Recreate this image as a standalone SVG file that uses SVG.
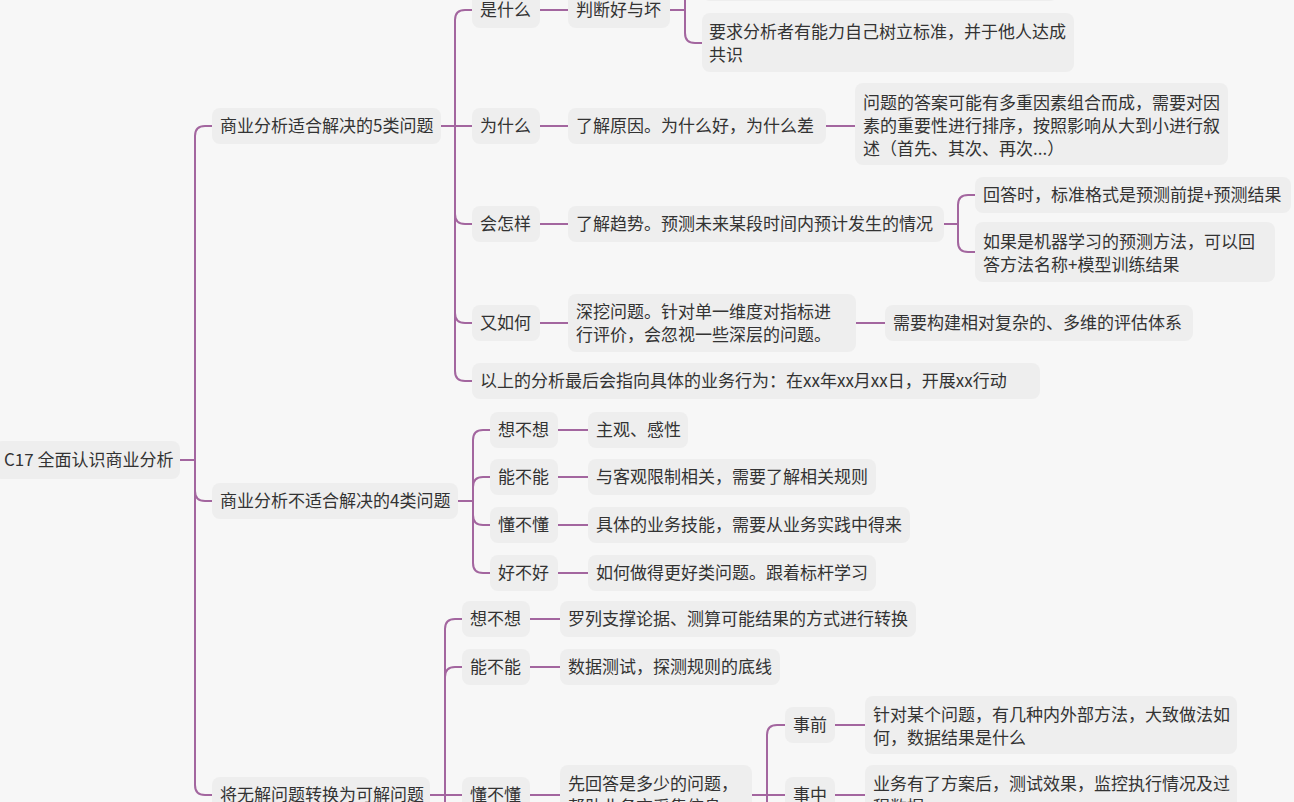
<svg xmlns="http://www.w3.org/2000/svg" width="1294" height="802" viewBox="0 0 1294 802">
<style>
.bg{fill:#f7f7f7}
.n rect{fill:#eeeeee}
.n text{font-family:"Noto Sans CJK SC","Liberation Sans",sans-serif;font-size:17px;fill:#333}
.c path{fill:none;stroke:#a3669f;stroke-width:2;stroke-linecap:round}
</style>
<rect class="bg" x="0" y="0" width="1294" height="802"/>
<g class="c" id="connectors">
<path d="M180,460 H195 M195,460 V136 Q195,126 205,126 H212 M195,460 V491 Q195,501 205,501 H212 M195,460 V785 Q195,795 205,795 H212"/>
<path d="M441,126 H472 M455,126 V20 Q455,10 465,10 H472 M455,126 V214 Q455,224 465,224 H472 M455,126 V313 Q455,323 465,323 H472 M455,126 V371 Q455,381 465,381 H472"/>
<path d="M540,10 H568 M540,126 H568 M540,224 H568 M540,323 H568"/>
<path d="M670,10 H685 M685,10 V33 Q685,43 695,43 H702 M685,10 V-10 Q685,-20 695,-20 H702"/>
<path d="M826,126 H855"/>
<path d="M944,224 H958 M958,224 V205 Q958,195 968,195 H975 M958,224 V242 Q958,252 968,252 H975"/>
<path d="M856,323 H885"/>
<path d="M458,501 H473 M473,501 V440 Q473,430 483,430 H490 M473,501 V487 Q473,477 483,477 H490 M473,501 V515 Q473,525 483,525 H490 M473,501 V563 Q473,573 483,573 H490"/>
<path d="M558,430 H588 M558,477 H588 M558,525 H588 M558,573 H588"/>
<path d="M430,795 H462 M445,795 V629 Q445,619 455,619 H462 M445,795 V677 Q445,667 455,667 H462 M445,795 V812"/>
<path d="M530,619 H560 M530,667 H560 M530,795 H560"/>
<path d="M752,795 H785 M767,795 V735 Q767,725 777,725 H785 M767,795 V812"/>
<path d="M835,725 H865 M835,795 H865"/>
</g>
<g class="n" id="root"><rect x="-6" y="441" width="186" height="38" rx="8"/><text x="4" y="466">C17 全面认识商业分析</text></g>
<g class="n" id="n1"><rect x="212" y="108" width="229" height="36" rx="8"/><text x="220" y="132">商业分析适合解决的5类问题</text></g>
<g class="n" id="n2"><rect x="212" y="483" width="246" height="36" rx="8"/><text x="220" y="507">商业分析不适合解决的4类问题</text></g>
<g class="n" id="n3"><rect x="212" y="777" width="218" height="36" rx="8"/><text x="220" y="801">将无解问题转换为可解问题</text></g>
<g class="n" id="n1a"><rect x="472" y="-8" width="68" height="36" rx="8"/><text x="480" y="16">是什么</text></g>
<g class="n" id="n1b"><rect x="472" y="108" width="68" height="36" rx="8"/><text x="480" y="132">为什么</text></g>
<g class="n" id="n1c"><rect x="472" y="206" width="68" height="36" rx="8"/><text x="480" y="230">会怎样</text></g>
<g class="n" id="n1d"><rect x="472" y="305" width="68" height="36" rx="8"/><text x="480" y="329">又如何</text></g>
<g class="n" id="n1e"><rect x="472" y="363" width="568" height="36" rx="8"/><text x="480" y="387">以上的分析最后会指向具体的业务行为：在xx年xx月xx日，开展xx行动</text></g>
<g class="n" id="n1a1"><rect x="568" y="-8" width="102" height="36" rx="8"/><text x="576" y="16">判断好与坏</text></g>
<g class="n" id="n1a1x"><rect x="702" y="-40" width="356" height="41" rx="8"/></g>
<g class="n" id="n1a1b"><rect x="702" y="13" width="372" height="59" rx="8"/><text x="709" y="38">要求分析者有能力自己树立标准，并于他人达成</text><text x="709" y="61">共识</text></g>
<g class="n" id="n1b1"><rect x="568" y="108" width="258" height="36" rx="8"/><text x="576" y="132">了解原因。为什么好，为什么差</text></g>
<g class="n" id="n1b1a"><rect x="855" y="83" width="373" height="82" rx="8"/><text x="863" y="109">问题的答案可能有多重因素组合而成，需要对因</text><text x="863" y="132">素的重要性进行排序，按照影响从大到小进行叙</text><text x="863" y="155">述（首先、其次、再次...）</text></g>
<g class="n" id="n1c1"><rect x="568" y="206" width="376" height="36" rx="8"/><text x="576" y="230">了解趋势。预测未来某段时间内预计发生的情况</text></g>
<g class="n" id="n1c1a"><rect x="975" y="177" width="316" height="36" rx="8"/><text x="983" y="201">回答时，标准格式是预测前提+预测结果</text></g>
<g class="n" id="n1c1b"><rect x="975" y="222" width="300" height="60" rx="8"/><text x="983" y="248">如果是机器学习的预测方法，可以回</text><text x="983" y="271">答方法名称+模型训练结果</text></g>
<g class="n" id="n1d1"><rect x="568" y="294" width="288" height="58" rx="8"/><text x="576" y="318">深挖问题。针对单一维度对指标进</text><text x="576" y="341">行评价，会忽视一些深层的问题。</text></g>
<g class="n" id="n1d1a"><rect x="885" y="305" width="308" height="36" rx="8"/><text x="893" y="329">需要构建相对复杂的、多维的评估体系</text></g>
<g class="n" id="n2a"><rect x="490" y="412" width="68" height="36" rx="8"/><text x="498" y="436">想不想</text></g>
<g class="n" id="n2b"><rect x="490" y="459" width="68" height="36" rx="8"/><text x="498" y="483">能不能</text></g>
<g class="n" id="n2c"><rect x="490" y="507" width="68" height="36" rx="8"/><text x="498" y="531">懂不懂</text></g>
<g class="n" id="n2d"><rect x="490" y="555" width="68" height="36" rx="8"/><text x="498" y="579">好不好</text></g>
<g class="n" id="n2a1"><rect x="588" y="412" width="100" height="36" rx="8"/><text x="596" y="436">主观、感性</text></g>
<g class="n" id="n2b1"><rect x="588" y="459" width="288" height="36" rx="8"/><text x="596" y="483">与客观限制相关，需要了解相关规则</text></g>
<g class="n" id="n2c1"><rect x="588" y="507" width="322" height="36" rx="8"/><text x="596" y="531">具体的业务技能，需要从业务实践中得来</text></g>
<g class="n" id="n2d1"><rect x="588" y="555" width="288" height="36" rx="8"/><text x="596" y="579">如何做得更好类问题。跟着标杆学习</text></g>
<g class="n" id="n3a"><rect x="462" y="601" width="68" height="36" rx="8"/><text x="470" y="625">想不想</text></g>
<g class="n" id="n3b"><rect x="462" y="649" width="68" height="36" rx="8"/><text x="470" y="673">能不能</text></g>
<g class="n" id="n3c"><rect x="462" y="777" width="68" height="36" rx="8"/><text x="470" y="801">懂不懂</text></g>
<g class="n" id="n3a1"><rect x="560" y="601" width="356" height="36" rx="8"/><text x="568" y="625">罗列支撑论据、测算可能结果的方式进行转换</text></g>
<g class="n" id="n3b1"><rect x="560" y="649" width="220" height="36" rx="8"/><text x="568" y="673">数据测试，探测规则的底线</text></g>
<g class="n" id="n3c1"><rect x="560" y="765" width="192" height="60" rx="8"/><text x="568" y="790">先回答是多少的问题，</text><text x="568" y="813">帮助业务方采集信息</text></g>
<g class="n" id="n3c1a"><rect x="785" y="707" width="50" height="36" rx="8"/><text x="793" y="731">事前</text></g>
<g class="n" id="n3c1b"><rect x="785" y="777" width="50" height="36" rx="8"/><text x="793" y="801">事中</text></g>
<g class="n" id="n3c1a1"><rect x="865" y="696" width="372" height="58" rx="8"/><text x="873" y="721">针对某个问题，有几种内外部方法，大致做法如</text><text x="873" y="744">何，数据结果是什么</text></g>
<g class="n" id="n3c1b1"><rect x="865" y="765" width="372" height="60" rx="8"/><text x="873" y="790">业务有了方案后，测试效果，监控执行情况及过</text><text x="873" y="813">程数据</text></g>
</svg>
